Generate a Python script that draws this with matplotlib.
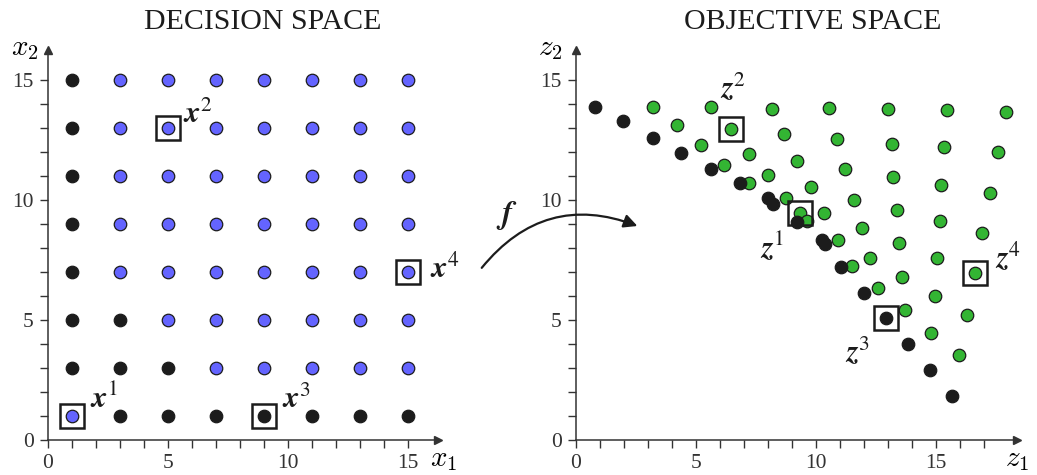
#Decision space vs objective space
#---
import numpy as np
import matplotlib.pyplot as plt
from matplotlib.patches import FancyArrowPatch

#figure size in pixels
W, H = 1037, 475

#colours
BLUE = '#6464ff'
GREEN = '#33b533'
BLACK = '#1c1c1c'
AXIS = '#333333'

#decision space grid values (x1 and x2)
grid_vals = [1, 3, 5, 7, 9, 11, 13, 15]

#dominated (black) decision vectors
dec_black_x = [1, 1, 1, 1, 1, 1, 1, 3, 5, 7, 9, 11, 13, 15, 3, 5, 3]
dec_black_y = [3, 5, 7, 9, 11, 13, 15, 1, 1, 1, 1, 1, 1, 1, 3, 3, 5]

#highlighted decision vectors
dec_mark_x = [1, 5, 9, 15]
dec_mark_y = [1, 13, 1, 7]
dec_mark_lbl = ['1', '2', '3', '4']

#objective space, black points
obj_black_z1 = [0.80, 1.98, 3.21, 4.40, 5.64, 6.86, 8.01, 8.23, 9.21, 10.26, 10.39,
                11.07, 12.01, 12.93, 13.86, 14.78, 15.68]
obj_black_z2 = [13.89, 13.30, 12.60, 11.97, 11.28, 10.72, 10.07, 9.83, 9.08, 8.33, 8.15,
                7.21, 6.13, 5.08, 4.00, 2.93, 1.82]

#objective space, green points
obj_green_z1 = [3.21, 5.65, 8.18, 10.57, 13.03, 15.47, 17.92,
                4.21, 6.48, 8.68, 10.90, 13.18, 15.36, 17.61,
                5.21, 7.23, 9.23, 11.23, 13.23, 15.23, 17.27,
                6.17, 8.01, 9.80, 11.58, 13.39, 15.18, 16.94,
                7.23, 8.78, 10.33, 11.92, 13.47, 15.05, 16.65,
                9.33, 9.65, 10.91, 12.28, 13.61, 14.98, 16.32,
                11.51, 12.61, 13.72, 14.82, 15.98]
obj_green_z2 = [13.89, 13.86, 13.78, 13.82, 13.78, 13.75, 13.68,
                13.13, 12.95, 12.75, 12.53, 12.35, 12.20, 11.99,
                12.30, 11.93, 11.64, 11.30, 10.97, 10.64, 10.30,
                11.45, 11.04, 10.55, 10.02, 9.60, 9.13, 8.61,
                10.70, 10.08, 9.46, 8.85, 8.21, 7.58, 6.95,
                9.45, 9.14, 8.32, 7.60, 6.79, 6.01, 5.21,
                7.24, 6.32, 5.40, 4.46, 3.55]

#highlighted objective vectors
obj_mark_z1 = [9.33, 6.48, 12.93, 16.65]
obj_mark_z2 = [9.45, 12.95, 5.08, 6.95]

#label anchor positions (data coords, left/baseline)
dec_lbl_pos = [(1.76, 1.33), (5.64, 13.2), (9.76, 1.33), (15.93, 6.75)]
obj_lbl_pos = [(7.68, 7.58), (6.01, 14.25), (11.22, 3.25), (17.47, 7.17)]

plt.rcParams['font.family'] = ['Liberation Serif', 'DejaVu Serif']


def fig_xy(px, py):
    """
    Pixel position (from top left) to figure fraction.
    """
    return px / W, 1 - py / H


def style_axes(ax, xmax, ymax, xminor_max, yminor_max):
    """
    Arrow style axes with major and minor ticks.
    """
    ax.set_xlim(0, xmax)
    ax.set_ylim(0, ymax)
    for s in ['top', 'right']:
        ax.spines[s].set_visible(False)
    for s in ['left', 'bottom']:
        ax.spines[s].set_color(AXIS)
        ax.spines[s].set_linewidth(1.1)
    ax.set_xticks([0, 5, 10, 15])
    ax.set_yticks([0, 5, 10, 15])
    ax.set_xticks(np.arange(0, xminor_max + 1), minor=True)
    ax.set_yticks(np.arange(0, yminor_max + 1), minor=True)
    ax.tick_params(which='both', direction='out', length=6, width=1.0, color=AXIS)
    ax.tick_params(which='major', labelsize=15.5, labelcolor=AXIS, pad=4)
    #arrow heads
    ax.plot(1, 0, '>', color=AXIS, ms=6, transform=ax.transAxes, clip_on=False)
    ax.plot(0, 1, '^', color=AXIS, ms=6, transform=ax.transAxes, clip_on=False)
    ax.set_facecolor('none')


fig = plt.figure(figsize=(W / 100, H / 100), dpi=100)

#Decision space
#---
ax1 = fig.add_axes([47.7 / W, 35 / H, 390.3 / W, 390 / H])
style_axes(ax1, 16.26, 16.25, 15, 15)

black_set = set(zip(dec_black_x, dec_black_y))
blue_pts = [(gx, gy) for gy in grid_vals for gx in grid_vals if (gx, gy) not in black_set]
ax1.plot([p[0] for p in blue_pts], [p[1] for p in blue_pts], 'o', color=BLUE,
         mec=BLACK, mew=0.9, ms=9, clip_on=False, zorder=3)
ax1.plot(dec_black_x, dec_black_y, 'o', color=BLACK, mec=BLACK, mew=0.9, ms=9,
         clip_on=False, zorder=3)
ax1.plot(dec_mark_x, dec_mark_y, 's', mfc='none', mec=BLACK, mew=1.8, ms=17,
         clip_on=False, zorder=4)
for (lx, ly), n in zip(dec_lbl_pos, dec_mark_lbl):
    ax1.text(lx, ly, r'$\mathbfit{x}^{\mathrm{%s}}$' % n, fontsize=22, math_fontfamily='stix',
             ha='left', va='baseline', color=BLACK)

#Objective space
#---
ax2 = fig.add_axes([575.7 / W, 35 / H, 441 / W, 390 / H])
style_axes(ax2, 18.375, 16.25, 17, 15)

ax2.plot(obj_green_z1, obj_green_z2, 'o', color=GREEN, mec=BLACK, mew=0.9, ms=9,
         clip_on=False, zorder=3)
ax2.plot(obj_black_z1, obj_black_z2, 'o', color=BLACK, mec=BLACK, mew=0.9, ms=9,
         clip_on=False, zorder=3)
ax2.plot(obj_mark_z1, obj_mark_z2, 's', mfc='none', mec=BLACK, mew=1.8, ms=17,
         clip_on=False, zorder=4)
for (lx, ly), n in zip(obj_lbl_pos, dec_mark_lbl):
    ax2.text(lx, ly, r'$\mathbfit{z}^{\mathrm{%s}}$' % n, fontsize=22, math_fontfamily='stix',
             ha='left', va='baseline', color=BLACK)

#titles and axis names
fig.text(*fig_xy(263, 22), 'DECISION SPACE', fontsize=21.5, ha='center', va='center', color=BLACK)
fig.text(*fig_xy(813, 22), 'OBJECTIVE SPACE', fontsize=21.5, ha='center', va='center', color=BLACK)
fig.text(*fig_xy(11, 55), r'$x_2$', fontsize=21, math_fontfamily='cm', ha='left', va='baseline')
fig.text(*fig_xy(430, 466), r'$x_1$', fontsize=21, math_fontfamily='cm', ha='left', va='baseline')
fig.text(*fig_xy(538, 55), r'$z_2$', fontsize=21, math_fontfamily='cm', ha='left', va='baseline')
fig.text(*fig_xy(1005, 466), r'$z_1$', fontsize=21, math_fontfamily='cm', ha='left', va='baseline')

#mapping arrow f
arrow = FancyArrowPatch(fig_xy(480, 270), fig_xy(640, 227), transform=fig.transFigure,
                        connectionstyle='arc3,rad=-0.37', arrowstyle='-|>',
                        mutation_scale=20, lw=1.6, color=BLACK)
fig.patches.append(arrow)
fig.text(*fig_xy(507, 215), r'$\mathbfit{f}$', fontsize=23, math_fontfamily='stix',
         ha='center', va='center', color=BLACK)

fig.savefig('out.png', dpi=100)
